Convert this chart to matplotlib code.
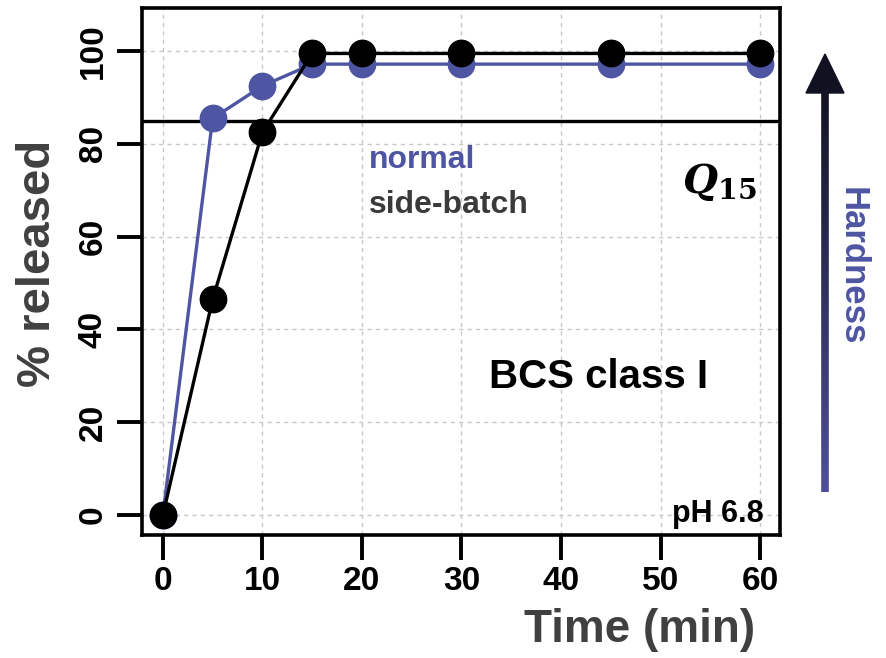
import matplotlib.pyplot as plt
import numpy as np
from matplotlib.collections import LineCollection

plt.rcParams["font.family"] = ["Liberation Sans", "DejaVu Sans"]
plt.rcParams["font.weight"] = "bold"

BLUE = "#4e55a2"
BLACK = "#000000"
GRAY = "#3a3a3a"

time_min = [0, 5, 10, 15, 20, 30, 45, 60]
normal = [0, 85.5, 92.5, 97.2, 97.2, 97.2, 97.2, 97.2]
side_batch = [0, 46.5, 82.5, 99.5, 99.5, 99.5, 99.5, 99.5]
q15_limit = 85
x_ticks = [0, 10, 20, 30, 40, 50, 60]
y_ticks = [0, 20, 40, 60, 80, 100]

fig = plt.figure(figsize=(8.86, 6.58), dpi=100)
ax = fig.add_axes([142 / 886, 1 - 535 / 658, 638 / 886, 527 / 658])

ax.set_xlim(-2.1, 62.0)
ax.set_ylim(-4.3, 109.3)
ax.set_xticks(x_ticks)
ax.set_yticks(y_ticks)
ax.grid(True, color="#c8c8c8", linestyle=(0, (3, 3)), linewidth=1.0)
ax.set_axisbelow(True)

ax.plot(time_min, normal, color=BLUE, lw=2.4, marker="o", ms=19,
        mfc=BLUE, mec=BLUE, zorder=3, clip_on=False)
ax.plot(time_min, side_batch, color=BLACK, lw=2.4, marker="o", ms=19,
        mfc=BLACK, mec=BLACK, zorder=4, clip_on=False)
ax.axhline(q15_limit, color=BLACK, lw=2.4, zorder=2)

for s in ax.spines.values():
    s.set_linewidth(2.6)
ax.tick_params(axis="x", direction="out", length=18, width=2.8,
               labelsize=24, pad=4)
ax.tick_params(axis="y", direction="out", length=18, width=2.8,
               labelsize=24, pad=6, labelrotation=90)
for lab in ax.get_yticklabels():
    lab.set_va("center")

ax.text(0.355, 0.712, "normal", transform=ax.transAxes, color=BLUE,
        fontsize=23, fontweight="bold", ha="left", va="center")
ax.text(0.355, 0.627, "side-batch", transform=ax.transAxes, color=GRAY,
        fontsize=23, fontweight="bold", ha="left", va="center")
ax.text(0.905, 0.67, r"$\boldsymbol{Q}_{\mathbf{15}}$", transform=ax.transAxes,
        fontsize=29, ha="center", va="center", math_fontfamily="dejavuserif")
ax.text(0.715, 0.30, "BCS class I", transform=ax.transAxes,
        fontsize=29, fontweight="bold", ha="center", va="center")
ax.text(0.975, 0.04, "pH 6.8", transform=ax.transAxes,
        fontsize=22, fontweight="bold", ha="right", va="center")

fig.text(640 / 886, 1 - 630 / 658, "Time (min)", color="#404040",
         fontsize=33, fontweight="bold", ha="center", va="center")
fig.text(38 / 886, 1 - 263 / 658, "% released", color="#404040",
         fontsize=34, fontweight="bold", ha="center", va="center", rotation=90)

# gradient arrow: blue at the base fading to near-black at the tip
ax2 = fig.add_axes([0, 0, 1, 1], facecolor="none")
ax2.set_xlim(0, 886)
ax2.set_ylim(658, 0)
ax2.axis("off")
y_pts = np.linspace(492, 88, 80)
segs = [[(825, y_pts[i]), (825, y_pts[i + 1])] for i in range(len(y_pts) - 1)]
c0 = np.array([0x4e, 0x4e, 0x9c]) / 255
c1 = np.array([0x12, 0x12, 0x22]) / 255
cols = [c0 + (c1 - c0) * t for t in np.linspace(0, 1, len(segs))]
ax2.add_collection(LineCollection(segs, colors=cols, linewidths=5.5))
ax2.fill([806, 844, 825], [93, 93, 54], color="#111122")
ax2.text(852, 266, "Hardness", color=BLUE, fontsize=25, fontweight="bold",
         rotation=-90, ha="center", va="center")

fig.savefig("out.png", dpi=100)
